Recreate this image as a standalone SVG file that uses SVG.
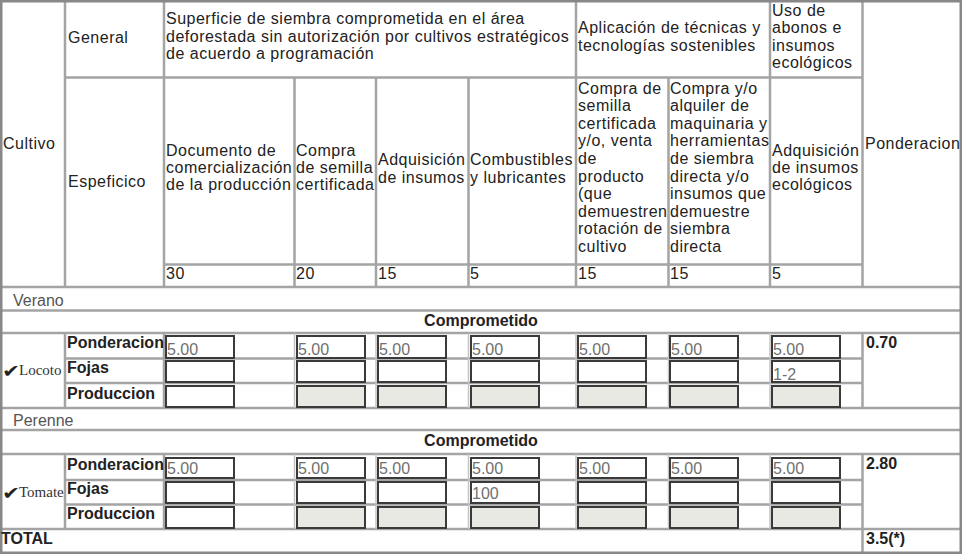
<svg xmlns="http://www.w3.org/2000/svg" width="962" height="556" viewBox="0 0 962 556">
<style>
.ln{stroke:#a4a4a4;stroke-width:2.5;fill:none}
.fl{stroke:#c4c4c4;stroke-width:1.5;fill:none}
.ob{stroke:#888;stroke-width:2.5;fill:none}
.h{font-family:"Liberation Sans",Arial,sans-serif;font-size:16px;fill:#222;letter-spacing:0.5px}
.g{font-family:"Liberation Sans",Arial,sans-serif;font-size:16px;fill:#555}
.b{font-family:"Liberation Sans",Arial,sans-serif;font-size:16px;font-weight:bold;fill:#222}
.lb{font-family:"Liberation Sans",Arial,sans-serif;font-size:16px;font-weight:bold;fill:#222}
.v{font-family:"Liberation Sans",Arial,sans-serif;font-size:16px;fill:#707070}
.bx{fill:#fff;stroke:#3a3a3a;stroke-width:2}
.bg{fill:#e9e9e4;stroke:#3a3a3a;stroke-width:2}
.nm{font-family:"Liberation Serif","Times New Roman",serif;font-size:15px;fill:#333}
.ck{font-family:"DejaVu Sans",sans-serif;font-size:18px;fill:#222}
</style>
<rect x="0" y="0" width="962" height="556" fill="#fff"/>
<g id="grid">
<path class="ln" d="M65 77.5H862.5M164 264.5H862.5M1 287H961M65 1V287M164 1V287M294.5 77.5V287M376 77.5V287M468.5 77.5V287M576 1V287M668.5 77.5V287M770 1V287M862.5 1V287M1 310.5H961M1 333H961M65 333V408M164 333V408M862.5 333V408M65 358.5H862.5M65 383H862.5M1 408H961M1 430H961M1 454H961M65 454V529M164 454V529M862.5 454V529M65 480H862.5M65 504.5H862.5M1 529H961M862.5 529V553"/>
<path class="fl" d="M294.5 333V408M376 333V408M468.5 333V408M576 333V408M668.5 333V408M770 333V408M294.5 454V529M376 454V529M468.5 454V529M576 454V529M668.5 454V529M770 454V529"/>
<rect class="ob" x="1.25" y="1.25" width="959.5" height="551.5"/>
</g>
<g id="header">
<text class="h" x="3" y="149">Cultivo</text>
<text class="h" x="68" y="43">General</text>
<text class="h" x="68" y="187">Espeficico</text>
<text class="h" x="166" y="24">Superficie de siembra comprometida en el área</text>
<text class="h" x="166" y="41.5">deforestada sin autorización por cultivos estratégicos</text>
<text class="h" x="166" y="59">de acuerdo a programación</text>
<text class="h" x="578" y="33">Aplicación de técnicas y</text>
<text class="h" x="578" y="50.5">tecnologías sostenibles</text>
<text class="h" x="772" y="15.5">Uso de</text>
<text class="h" x="772" y="33">abonos e</text>
<text class="h" x="772" y="50.5">insumos</text>
<text class="h" x="772" y="68">ecológicos</text>
<text class="h" x="865" y="149">Ponderacion</text>
<text class="h" x="166" y="156">Documento de</text>
<text class="h" x="166" y="173">comercialización</text>
<text class="h" x="166" y="190">de la producción</text>
<text class="h" x="296" y="156">Compra</text>
<text class="h" x="296" y="173">de semilla</text>
<text class="h" x="296" y="190">certificada</text>
<text class="h" x="378" y="165">Adquisición</text>
<text class="h" x="378" y="182.5">de insumos</text>
<text class="h" x="470" y="165">Combustibles</text>
<text class="h" x="470" y="182.5">y lubricantes</text>
<text class="h" x="578" y="93.5">Compra de</text>
<text class="h" x="578" y="111">semilla</text>
<text class="h" x="578" y="128.7">certificada</text>
<text class="h" x="578" y="146.3">y/o, venta</text>
<text class="h" x="578" y="163.9">de</text>
<text class="h" x="578" y="181.5">producto</text>
<text class="h" x="578" y="199.1">(que</text>
<text class="h" x="578" y="216.7">demuestren</text>
<text class="h" x="578" y="234.3">rotación de</text>
<text class="h" x="578" y="251.9">cultivo</text>
<text class="h" x="670" y="93.5">Compra y/o</text>
<text class="h" x="670" y="111">alquiler de</text>
<text class="h" x="670" y="128.7">maquinaria y</text>
<text class="h" x="670" y="146.3">herramientas</text>
<text class="h" x="670" y="163.9">de siembra</text>
<text class="h" x="670" y="181.5">directa y/o</text>
<text class="h" x="670" y="199.1">insumos que</text>
<text class="h" x="670" y="216.7">demuestre</text>
<text class="h" x="670" y="234.3">siembra</text>
<text class="h" x="670" y="251.9">directa</text>
<text class="h" x="772" y="156">Adquisición</text>
<text class="h" x="772" y="173">de insumos</text>
<text class="h" x="772" y="190">ecológicos</text>
<text class="h" x="166" y="278.5">30</text>
<text class="h" x="296" y="278.5">20</text>
<text class="h" x="378" y="278.5">15</text>
<text class="h" x="470" y="278.5">5</text>
<text class="h" x="578" y="278.5">15</text>
<text class="h" x="670" y="278.5">15</text>
<text class="h" x="772" y="278.5">5</text>
</g>
<g id="verano">
<text class="g" x="13" y="306">Verano</text>
<text class="b" x="481" y="326" text-anchor="middle">Comprometido</text>
</g>
<g id="locoto">
<text class="ck" transform="translate(2 377) scale(1.2 1)">✔</text>
<text class="nm" x="19" y="375">Locoto</text>
<text class="lb" x="67" y="348">Ponderacion</text>
<text class="lb" x="67" y="373">Fojas</text>
<text class="lb" x="67" y="398.5">Produccion</text>
<rect class="bx" x="166" y="336" width="68" height="22"/>
<rect class="bx" x="297" y="336" width="68" height="22"/>
<rect class="bx" x="378" y="336" width="68" height="22"/>
<rect class="bx" x="471" y="336" width="68" height="22"/>
<rect class="bx" x="578" y="336" width="68" height="22"/>
<rect class="bx" x="670" y="336" width="68" height="22"/>
<rect class="bx" x="772" y="336" width="68" height="22"/>
<rect class="bx" x="166" y="361" width="68" height="21"/>
<rect class="bx" x="297" y="361" width="68" height="21"/>
<rect class="bx" x="378" y="361" width="68" height="21"/>
<rect class="bx" x="471" y="361" width="68" height="21"/>
<rect class="bx" x="578" y="361" width="68" height="21"/>
<rect class="bx" x="670" y="361" width="68" height="21"/>
<rect class="bx" x="772" y="361" width="68" height="21"/>
<rect class="bx" x="166" y="386" width="68" height="21"/>
<rect class="bg" x="297" y="386" width="68" height="21"/>
<rect class="bg" x="378" y="386" width="68" height="21"/>
<rect class="bg" x="471" y="386" width="68" height="21"/>
<rect class="bg" x="578" y="386" width="68" height="21"/>
<rect class="bg" x="670" y="386" width="68" height="21"/>
<rect class="bg" x="772" y="386" width="68" height="21"/>
<text class="v" x="167" y="355">5.00</text>
<text class="v" x="298" y="355">5.00</text>
<text class="v" x="379" y="355">5.00</text>
<text class="v" x="472" y="355">5.00</text>
<text class="v" x="579" y="355">5.00</text>
<text class="v" x="671" y="355">5.00</text>
<text class="v" x="773" y="355">5.00</text>
<text class="v" x="773" y="379.5">1-2</text>
<text class="b" x="866" y="348">0.70</text>
</g>
<g id="perenne">
<text class="g" x="13" y="426">Perenne</text>
<text class="b" x="481" y="446" text-anchor="middle">Comprometido</text>
</g>
<g id="tomate">
<text class="ck" transform="translate(2 499) scale(1.2 1)">✔</text>
<text class="nm" x="19" y="497">Tomate</text>
<text class="lb" x="67" y="469.5">Ponderacion</text>
<text class="lb" x="67" y="494">Fojas</text>
<text class="lb" x="67" y="519">Produccion</text>
<rect class="bx" x="166" y="458" width="68" height="20"/>
<rect class="bx" x="297" y="458" width="68" height="20"/>
<rect class="bx" x="378" y="458" width="68" height="20"/>
<rect class="bx" x="471" y="458" width="68" height="20"/>
<rect class="bx" x="578" y="458" width="68" height="20"/>
<rect class="bx" x="670" y="458" width="68" height="20"/>
<rect class="bx" x="772" y="458" width="68" height="20"/>
<rect class="bx" x="166" y="482" width="68" height="21"/>
<rect class="bx" x="297" y="482" width="68" height="21"/>
<rect class="bx" x="378" y="482" width="68" height="21"/>
<rect class="bx" x="471" y="482" width="68" height="21"/>
<rect class="bx" x="578" y="482" width="68" height="21"/>
<rect class="bx" x="670" y="482" width="68" height="21"/>
<rect class="bx" x="772" y="482" width="68" height="21"/>
<rect class="bx" x="166" y="507" width="68" height="21"/>
<rect class="bg" x="297" y="507" width="68" height="21"/>
<rect class="bg" x="378" y="507" width="68" height="21"/>
<rect class="bg" x="471" y="507" width="68" height="21"/>
<rect class="bg" x="578" y="507" width="68" height="21"/>
<rect class="bg" x="670" y="507" width="68" height="21"/>
<rect class="bg" x="772" y="507" width="68" height="21"/>
<text class="v" x="167" y="474">5.00</text>
<text class="v" x="298" y="474">5.00</text>
<text class="v" x="379" y="474">5.00</text>
<text class="v" x="472" y="474">5.00</text>
<text class="v" x="579" y="474">5.00</text>
<text class="v" x="671" y="474">5.00</text>
<text class="v" x="773" y="474">5.00</text>
<text class="v" x="472" y="499">100</text>
<text class="b" x="866" y="469">2.80</text>
</g>
<g id="total">
<text class="b" x="1" y="544">TOTAL</text>
<text class="b" x="866" y="544">3.5(*)</text>
</g>
</svg>
